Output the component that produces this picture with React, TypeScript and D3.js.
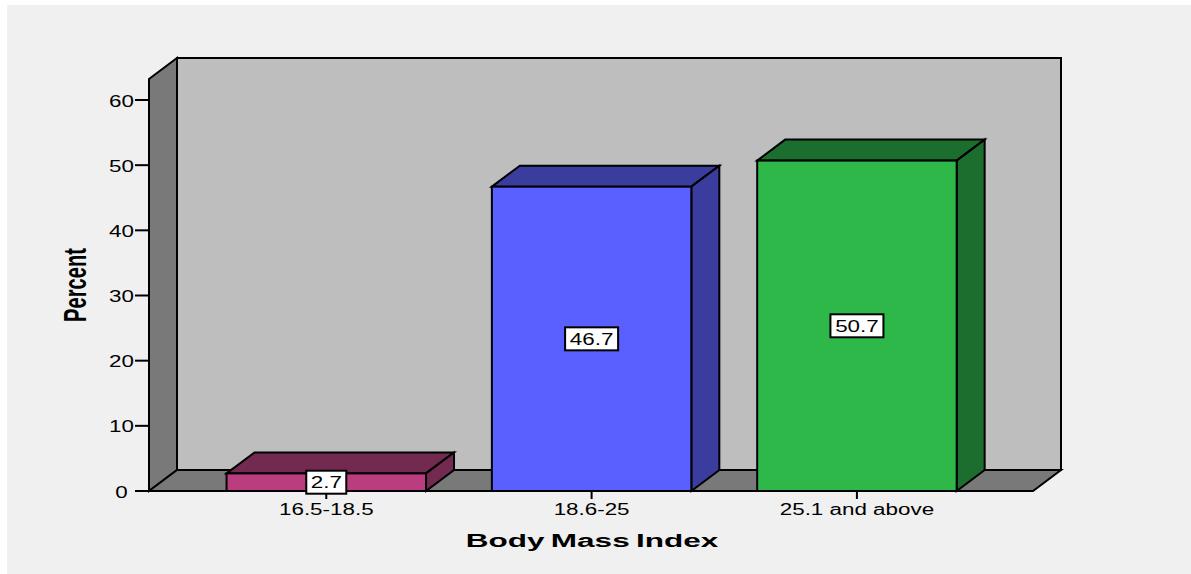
import React from "react";
import * as d3 from "d3";

const categories = ["16.5-18.5", "18.6-25", "25.1 and above"];
const values = [2.7, 46.7, 50.7];
const frontColors = ["#b93d7f", "#5a5fff", "#2fb84a"];
const topColors = ["#722a51", "#3a3d9e", "#1c6e2e"];
const yTicks = [0, 10, 20, 30, 40, 50, 60];

const W = 1191, H = 574;
const DX = 28, DY = 21;
const xL = 149, xR = 1033, yB = 491, yT = 79;
const FONT = "'Liberation Sans', Arial, sans-serif";

const y = d3.scaleLinear().domain([0, 60]).range([yB, 100]);
const x = d3.scaleBand<string>().domain(categories).range([xL + 0.6, xR + 0.6]).paddingInner(0.2482).paddingOuter(0.29);

const poly = (pts: [number, number][]) => pts.map(p => p.join(",")).join(" ");

function WideText({ cx, cy, sx, size, weight, children, wordSpacing }: any) {
  return (
    <text
      transform={`translate(${cx},${cy}) scale(${sx},1)`}
      textAnchor="middle"
      fontFamily={FONT}
      fontSize={size}
      fontWeight={weight ?? "normal"}
      wordSpacing={wordSpacing}
      fill="#000"
    >
      {children}
    </text>
  );
}

export default function App() {
  const bw = x.bandwidth();
  return (
    <svg width={W} height={H} viewBox={`0 0 ${W} ${H}`}
      style={{ position: "fixed", left: 0, top: 0, display: "block" }}>
      <rect x={0} y={0} width={W} height={H} fill="#fff" />
      <rect x={7} y={5} width={W - 7} height={H - 5} fill="#f0f0f0" />

      <g stroke="#000" strokeWidth={2} strokeLinejoin="miter">
        <polygon points={poly([[xL + DX, yT - DY], [xR + DX, yT - DY], [xR + DX, yB - DY], [xL + DX, yB - DY]])} fill="#bebebe" />
        <polygon points={poly([[xL, yT], [xL + DX, yT - DY], [xL + DX, yB - DY], [xL, yB]])} fill="#797979" />
        <polygon points={poly([[xL, yB], [xL + DX, yB - DY], [xR + DX, yB - DY], [xR, yB]])} fill="#797979" />
      </g>

      {yTicks.map(t => (
        <g key={t}>
          <line x1={135} x2={xL} y1={y(t)} y2={y(t)} stroke="#000" strokeWidth={2} />
          <WideText cx={121.5} cy={y(t) + 6.5} sx={1.4} size={16}>{t}</WideText>
        </g>
      ))}

      {categories.map(c => {
        const cx = x(c)! + bw / 2;
        return (
          <g key={c}>
            <line x1={cx} x2={cx} y1={yB} y2={499} stroke="#000" strokeWidth={2} />
            <WideText cx={cx} cy={515} sx={1.4} size={16}>{c}</WideText>
          </g>
        );
      })}

      {categories.map((c, i) => {
        const l = x(c)!, r = l + bw, top = y(values[i]);
        return (
          <g key={c} stroke="#000" strokeWidth={2}>
            <polygon points={poly([[l, top], [l + DX, top - DY], [r + DX, top - DY], [r, top]])} fill={topColors[i]} />
            <polygon points={poly([[r, top], [r + DX, top - DY], [r + DX, yB - DY], [r, yB]])} fill={topColors[i]} />
            <rect x={l} y={top} width={bw} height={yB - top} fill={frontColors[i]} />
          </g>
        );
      })}

      {categories.map((c, i) => {
        const cx = x(c)! + bw / 2, cy = (y(values[i]) + yB) / 2;
        const w = values[i] < 10 ? 40 : 53;
        return (
          <g key={c}>
            <rect x={cx - w / 2} y={cy - 11.5} width={w} height={23} fill="#fff" stroke="#000" strokeWidth={2} />
            <WideText cx={cx} cy={cy + 6} sx={1.4} size={16}>{values[i].toFixed(1)}</WideText>
          </g>
        );
      })}

      <WideText cx={592} cy={547} sx={1.66} size={19} weight="bold" wordSpacing={-1.5}>Body Mass Index</WideText>
      <text
        transform="translate(86,285) rotate(-90) scale(0.63,1)"
        textAnchor="middle"
        fontFamily={FONT}
        fontSize={32}
        fontWeight="bold"
        fill="#000"
      >Percent</text>
    </svg>
  );
}
